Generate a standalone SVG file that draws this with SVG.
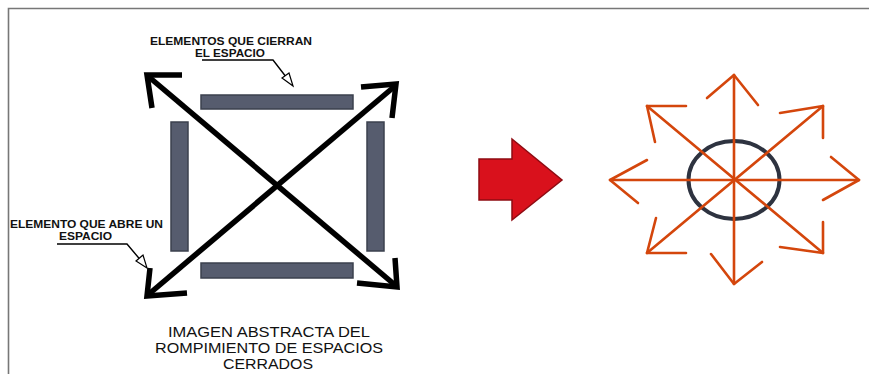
<svg xmlns="http://www.w3.org/2000/svg" width="869" height="374" viewBox="0 0 869 374">
<defs>
<style>
.frame{fill:none;stroke:#777;stroke-width:1.6}
.bar{fill:#565c6e;stroke:#3b404e;stroke-width:1.5}
.blk{fill:none;stroke:#000;stroke-width:5.5;stroke-linecap:butt;stroke-linejoin:miter}
.lead{fill:none;stroke:#000;stroke-width:1.4}
.hollow{fill:#fff;stroke:#000;stroke-width:1.2}
.lbl{font-family:"Liberation Sans",Arial,sans-serif;font-size:10.5px;font-weight:bold;fill:#111}
.cap{font-family:"Liberation Sans",Arial,sans-serif;font-size:15.5px;fill:#111}
.org{fill:none;stroke:#d4460c;stroke-width:2.6;stroke-linecap:round;stroke-linejoin:round}
</style>
</defs>
<rect width="869" height="374" fill="#fff"/>
<path class="frame" d="M8.5,374 V8.5 H869"/>

<g id="walls">
<rect class="bar" x="201" y="95" width="152" height="14"/>
<rect class="bar" x="171" y="122" width="17" height="129"/>
<rect class="bar" x="367" y="122" width="17" height="129"/>
<rect class="bar" x="201" y="263" width="152" height="15"/>
</g>

<g id="connectors">
<line class="blk" x1="149" y1="77" x2="395" y2="285"/>
<line class="blk" x1="395" y1="86" x2="149" y2="294"/>
<polyline class="blk" points="182,75 147,75 152,108"/>
<polyline class="blk" points="361,87 396,84 392,118"/>
<polyline class="blk" points="150,268 147,296 187,293"/>
<polyline class="blk" points="395,258 397,287 357,283"/>
<polyline class="lead" points="202,60 273,60 290,82"/>
<polygon class="hollow" points="293,86 282,78 289,73"/>
<polyline class="lead" points="57,244 127,244 143,263"/>
<polygon class="hollow" points="147,268 136,261 143,255"/>
</g>

<g id="label-cierran">
<text class="lbl" x="150" y="45" textLength="162" lengthAdjust="spacingAndGlyphs">ELEMENTOS QUE CIERRAN</text>
<text class="lbl" x="195" y="57" textLength="70" lengthAdjust="spacingAndGlyphs">EL ESPACIO</text>
</g>
<g id="label-abre">
<text class="lbl" x="10" y="228" textLength="153" lengthAdjust="spacingAndGlyphs">ELEMENTO QUE ABRE UN</text>
<text class="lbl" x="59" y="240" textLength="53" lengthAdjust="spacingAndGlyphs">ESPACIO</text>
</g>
<g id="caption">
<text class="cap" x="168" y="337" textLength="202" lengthAdjust="spacingAndGlyphs">IMAGEN ABSTRACTA DEL</text>
<text class="cap" x="155" y="353" textLength="228" lengthAdjust="spacingAndGlyphs">ROMPIMIENTO DE ESPACIOS</text>
<text class="cap" x="223" y="369" textLength="90" lengthAdjust="spacingAndGlyphs">CERRADOS</text>
</g>

<g id="red-arrow">
<polygon points="479,159 512,159 512,139 562,180 512,220 512,200 479,200" fill="#d9111c" stroke="#8e0b12" stroke-width="1.5" stroke-linejoin="miter"/>
</g>

<g id="burst">
<ellipse cx="734" cy="180" rx="45.5" ry="39" fill="none" stroke="#2e3340" stroke-width="4"/>
<line class="org" x1="734" y1="75" x2="734" y2="284"/>
<line class="org" x1="610" y1="180" x2="859" y2="180"/>
<line class="org" x1="647" y1="106" x2="823" y2="253"/>
<line class="org" x1="823" y1="106" x2="647" y2="253"/>
<polyline class="org" points="707,98 734,75 758,105"/>
<polyline class="org" points="711,254 734,284 762,262"/>
<polyline class="org" points="647,160 610,180 638,203"/>
<polyline class="org" points="831,157 859,180 823,200"/>
<polyline class="org" points="686,106 647,106 655,142"/>
<polyline class="org" points="780,113 823,106 823,138"/>
<polyline class="org" points="656,218 647,253 686,253"/>
<polyline class="org" points="823,222 823,253 780,247"/>
</g>
</svg>
